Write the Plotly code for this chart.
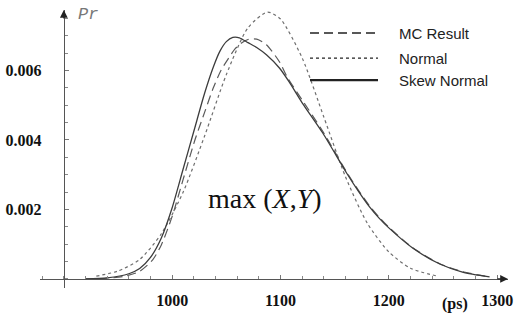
import plotly.graph_objects as go

# ---------------- data ----------------
mc_x = [920, 940, 955, 970, 982, 990, 1000, 1010, 1021, 1030, 1038, 1045, 1052, 1058,
        1064, 1070, 1078, 1087, 1099, 1106, 1120, 1139, 1161, 1172, 1182, 1191, 1200,
        1222, 1247, 1268, 1293]
mc_y = [0.0, 0.00002, 0.00007, 0.00022, 0.00055, 0.00098, 0.00180, 0.00285, 0.00400,
        0.00480, 0.00550, 0.00600, 0.00635, 0.00662, 0.00679, 0.00689, 0.00690,
        0.00674, 0.00625, 0.00582, 0.00515, 0.00425, 0.00308, 0.00255, 0.00211,
        0.00178, 0.00149, 0.00090, 0.00044, 0.00021, 0.00006]

normal_x = [930, 950, 970, 990, 1010, 1030, 1050, 1070, 1088, 1100, 1120, 1140, 1160,
            1180, 1200, 1220, 1245]
normal_y = [0.00008, 0.00023, 0.00056, 0.00130, 0.00249, 0.00412, 0.00588, 0.00723,
            0.00768, 0.00748, 0.00636, 0.00466, 0.00294, 0.00161, 0.00078, 0.00031,
            0.00008]

skew_x = [920, 940, 960, 970, 980, 990, 1000, 1010, 1020, 1030, 1038, 1044, 1050, 1056,
          1062, 1070, 1078, 1087, 1099, 1108, 1120, 1139, 1161, 1172, 1182, 1191, 1200,
          1222, 1247, 1268, 1293]
skew_y = [0.0, 0.00003, 0.00015, 0.00030, 0.00062, 0.00118, 0.00205, 0.00315, 0.00425,
          0.00535, 0.00610, 0.00655, 0.00683, 0.00695, 0.00694, 0.00680, 0.00666,
          0.00645, 0.00607, 0.00567, 0.00507, 0.00420, 0.00305, 0.00252, 0.00208,
          0.00175, 0.00147, 0.00089, 0.00043, 0.00020, 0.00006]

series_names = ["MC Result", "Normal", "Skew Normal"]

x_tickvals = [1000, 1100, 1200, 1300]
x_ticktext = ["1000", "1100", "1200", "1300"]
y_tickvals = [0.002, 0.004, 0.006]
y_ticktext = ["0.002", "0.004", "0.006"]

x_range = [878, 1310]
y_range = [-0.00026, 0.00774]

# ---------------- figure ----------------
styles = [
    dict(color="#5a5a5a", width=1.2, dash="9px,5px"),
    dict(color="#6e6e6e", width=1.2, dash="3px,3px"),
    dict(color="#3c3c3c", width=1.3, dash="solid"),
]

fig = go.Figure()
for name, xs, ys, st in zip(series_names, [mc_x, normal_x, skew_x],
                            [mc_y, normal_y, skew_y], styles):
    fig.add_trace(go.Scatter(x=xs, y=ys, mode="lines", name=name,
                             line=dict(shape="spline", smoothing=0.7, **st),
                             showlegend=False, hoverinfo="skip"))

tick_font = dict(family="Liberation Serif", size=16, color="#111", weight="bold")

fig.update_layout(
    width=516, height=318,
    margin=dict(l=40, r=8, t=10, b=30),
    paper_bgcolor="white", plot_bgcolor="white",
    showlegend=False,
    xaxis=dict(range=x_range, anchor="free", automargin=False,
               position=(0 - y_range[0]) / (y_range[1] - y_range[0]),
               showgrid=False, zeroline=False, showline=True, linecolor="#555",
               linewidth=1.2, ticks="inside", ticklen=4, tickcolor="#777",
               tickvals=x_tickvals, ticktext=x_ticktext,
               tickfont=tick_font, ticklabelstandoff=7,
               minor=dict(dtick=20, tick0=1000, ticks="inside", ticklen=3,
                          tickcolor="#888", showgrid=False)),
    yaxis=dict(range=y_range, anchor="free", automargin=False,
               position=(900 - x_range[0]) / (x_range[1] - x_range[0]),
               showgrid=False, zeroline=False, showline=True, linecolor="#555",
               linewidth=1.2, ticks="inside", ticklen=4, tickcolor="#777",
               tickvals=y_tickvals, ticktext=y_ticktext,
               tickfont=tick_font, ticklabelstandoff=19,
               minor=dict(dtick=0.0005, tick0=0, ticks="inside", ticklen=3,
                          tickcolor="#888", showgrid=False)),
)

# axis arrows
fig.add_annotation(xref="paper", yref="y", x=1.0, y=0, ax=-12, ay=0,
                   showarrow=True, arrowhead=2, arrowsize=1.3, arrowwidth=1.2,
                   arrowcolor="#222", text="")
fig.add_annotation(xref="x", yref="paper", x=900, y=1.0, ax=0, ay=10,
                   showarrow=True, arrowhead=2, arrowsize=1.3, arrowwidth=1.2,
                   arrowcolor="#222", text="")

# axis labels
fig.add_annotation(xref="x", yref="paper", x=911, y=1.0, xanchor="left",
                   yanchor="middle", yshift=-4, showarrow=False, text="<i>Pr</i>",
                   font=dict(family="Liberation Mono", size=17, color="#777"))
fig.add_annotation(xref="x", yref="paper", x=1261, y=0, xanchor="center",
                   yanchor="middle", yshift=-16, showarrow=False, text="<b>(ps)</b>",
                   font=dict(family="Liberation Serif", size=16, color="#111"))

# in-plot label
fig.add_annotation(xref="x", yref="y", x=1086, y=0.00232, showarrow=False,
                   text="max (<i>X</i>,<i>Y</i>)",
                   font=dict(family="Liberation Serif", size=28, color="#111"))

# manual legend (long line samples as in the reference)
leg_rows = [0.917, 0.827, 0.748]
for name, st, yy in zip(series_names, styles, leg_rows):
    lst = dict(st)
    lst["color"] = "#222"
    lst["width"] = 1.4 if st["dash"] != "solid" else 2.2
    fig.add_shape(type="line", xref="paper", yref="paper",
                  x0=(310 - 40) / 468, x1=(378 - 40) / 468,
                  y0=yy, y1=yy, line=lst)
    fig.add_annotation(xref="paper", yref="paper", x=(397 - 40) / 468, y=yy,
                       xanchor="left", yanchor="middle", showarrow=False, text=name,
                       font=dict(family="Liberation Sans", size=15, color="#222"))

# remove the browser's default 8px page margin so the figure fills the window
fig.write_html("out.html", config={"displayModeBar": False},
               post_script="document.body.style.margin='0px';")
